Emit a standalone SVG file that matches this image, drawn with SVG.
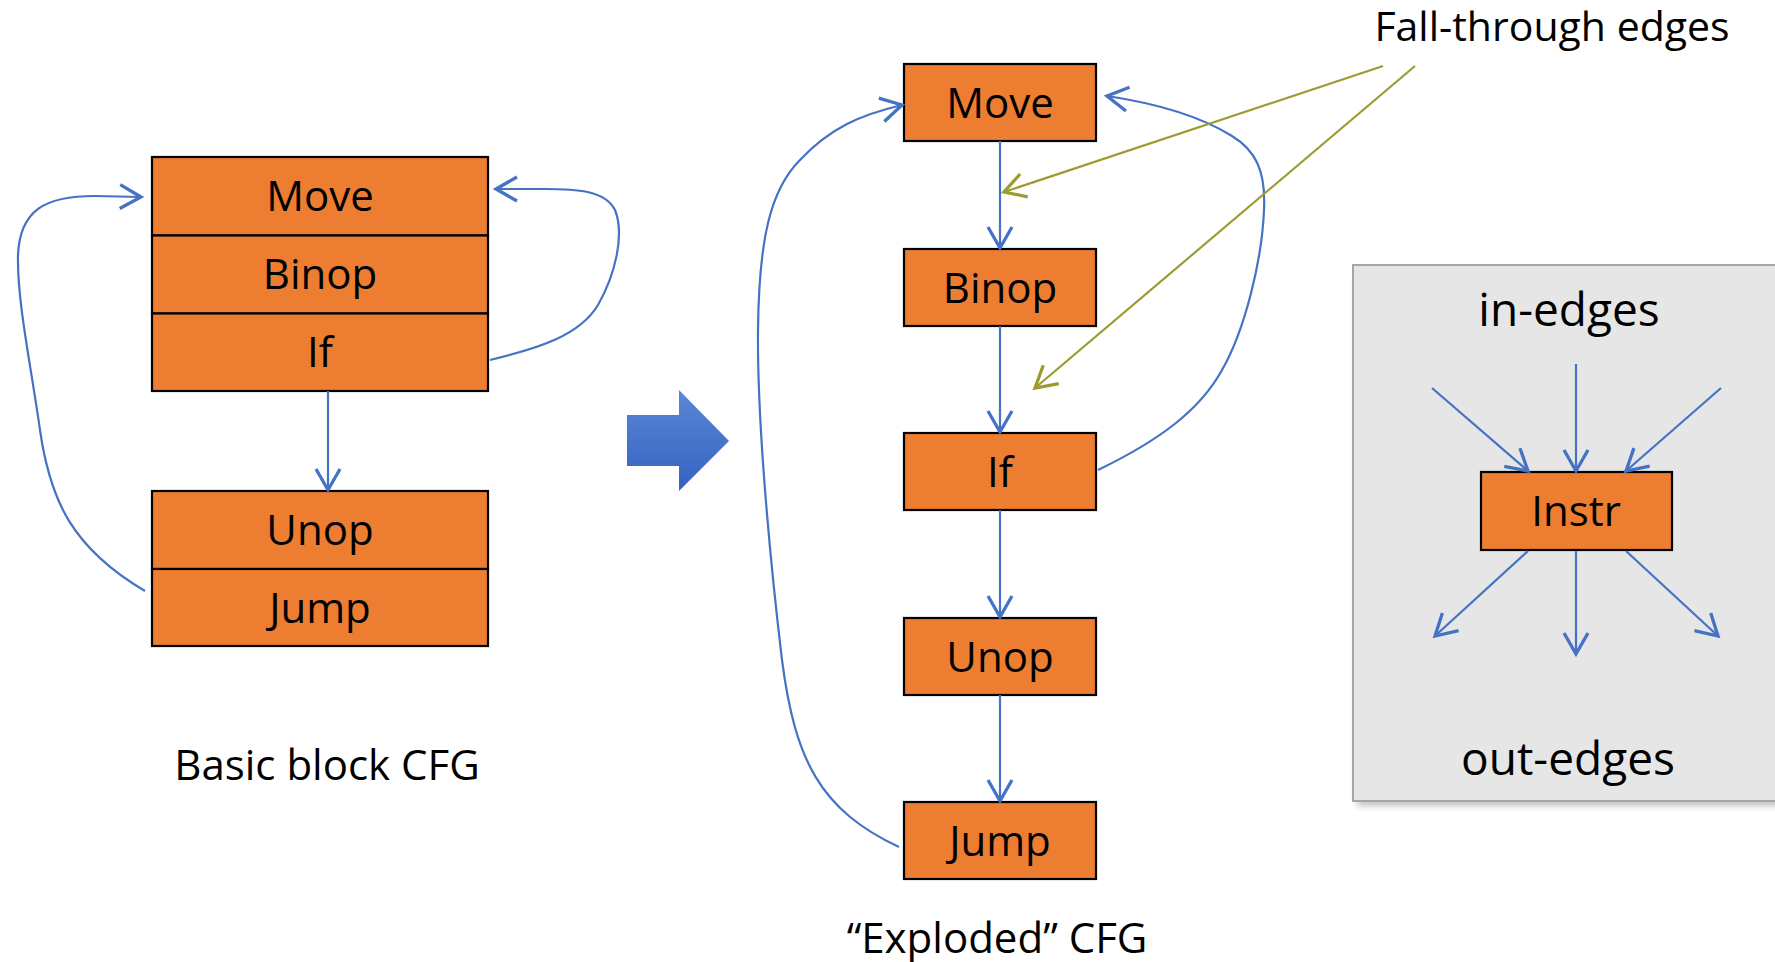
<svg xmlns="http://www.w3.org/2000/svg" width="1775" height="962" viewBox="0 0 1775 962">
  <style>
    .box { fill: #ed7d31; stroke: #000; stroke-width: 2.2; }
    .lbl { font-family: "Open Sans", "Noto Sans", sans-serif; font-size: 42px; fill: #000; text-anchor: middle; }
    .big { font-size: 46px; }
    .edge { fill: none; stroke: #4472c4; stroke-width: 2.2; }
    .fall { fill: none; stroke: #9b9b32; stroke-width: 2.2; }
  </style>
  <defs>
    <marker id="vb" markerUnits="userSpaceOnUse" markerWidth="30" markerHeight="30" viewBox="-16 -10 20 20" refX="0" refY="0" orient="auto">
      <path d="M-14,-8 L0,0 L-14,8" fill="none" stroke="#4472c4" stroke-width="2.2"/>
    </marker>
    <marker id="vg" markerUnits="userSpaceOnUse" markerWidth="30" markerHeight="30" viewBox="-16 -10 20 20" refX="0" refY="0" orient="auto">
      <path d="M-14,-8 L0,0 L-14,8" fill="none" stroke="#9b9b32" stroke-width="2.2"/>
    </marker>
    <linearGradient id="bigArrow" x1="0" y1="0" x2="0" y2="1">
      <stop offset="0" stop-color="#5b87d6"/>
      <stop offset="1" stop-color="#3462c0"/>
    </linearGradient>
    <filter id="shadow" x="-10%" y="-10%" width="120%" height="120%">
      <feGaussianBlur stdDeviation="3"/>
    </filter>
  </defs>

  <rect width="1775" height="962" fill="#fff"/>

  <!-- legend panel -->
  <g id="legend-panel">
    <rect x="1357" y="270" width="440" height="536" fill="#9a9a9a" opacity="0.6" filter="url(#shadow)"/>
    <rect x="1353" y="265" width="440" height="536" fill="#e6e6e6" stroke="#a6a6a6" stroke-width="2"/>
    <text class="lbl big" x="1569" y="326">in-edges</text>
    <text class="lbl big" x="1568" y="775">out-edges</text>
  </g>

  <!-- basic block CFG -->
  <g id="block-1">
    <rect class="box" x="152" y="157" width="336" height="78.5"/>
    <rect class="box" x="152" y="235.5" width="336" height="78"/>
    <rect class="box" x="152" y="313.5" width="336" height="77.5"/>
    <text class="lbl" x="320" y="211">Move</text>
    <text class="lbl" x="320" y="289">Binop</text>
    <text class="lbl" x="320" y="367">If</text>
  </g>
  <g id="block-2">
    <rect class="box" x="152" y="491" width="336" height="78"/>
    <rect class="box" x="152" y="569" width="336" height="77"/>
    <text class="lbl" x="320" y="545">Unop</text>
    <text class="lbl" x="320" y="623">Jump</text>
  </g>
  <text id="caption-basic" class="lbl" x="327" y="780">Basic block CFG</text>

  <!-- transformation arrow -->
  <path id="big-arrow" d="M627,415 L679,415 L679,390 L729,441 L679,491 L679,466 L627,466 Z" fill="url(#bigArrow)"/>

  <!-- exploded CFG -->
  <g id="n-move">
    <rect class="box" x="904" y="64" width="192" height="77"/>
    <text class="lbl" x="1000" y="118">Move</text>
  </g>
  <g id="n-binop">
    <rect class="box" x="904" y="249" width="192" height="77"/>
    <text class="lbl" x="1000" y="303">Binop</text>
  </g>
  <g id="n-if">
    <rect class="box" x="904" y="433" width="192" height="77"/>
    <text class="lbl" x="1000" y="487">If</text>
  </g>
  <g id="n-unop">
    <rect class="box" x="904" y="618" width="192" height="77"/>
    <text class="lbl" x="1000" y="672">Unop</text>
  </g>
  <g id="n-jump">
    <rect class="box" x="904" y="802" width="192" height="77"/>
    <text class="lbl" x="1000" y="856">Jump</text>
  </g>
  <text id="caption-exploded" class="lbl" x="997" y="953">“Exploded” CFG</text>

  <!-- instruction legend node -->
  <g id="n-instr">
    <rect class="box" x="1481" y="472" width="191" height="78"/>
    <text class="lbl" x="1576" y="526">Instr</text>
  </g>

  <text id="fall-label" class="lbl" x="1552" y="41" style="font-size:41px">Fall-through edges</text>

  <g id="connectors">
    <!-- basic block CFG -->
    <path class="edge" d="M328,391 L328,490" marker-end="url(#vb)"/>
    <path class="edge" d="M145,591 C72,548 50,500 40,430 C30,360 17,300 18,255 C20,210 45,196 95,196 L141,197" marker-end="url(#vb)"/>
    <path class="edge" d="M490,360 C540,348 580,335 598,305 C615,275 625,235 615,210 C605,190 575,189 545,189 L496,189" marker-end="url(#vb)"/>

    <!-- exploded CFG -->
    <path class="edge" d="M1000,141 L1000,248" marker-end="url(#vb)"/>
    <path class="edge" d="M1000,326 L1000,432" marker-end="url(#vb)"/>
    <path class="edge" d="M1000,510 L1000,617" marker-end="url(#vb)"/>
    <path class="edge" d="M1000,695 L1000,801" marker-end="url(#vb)"/>
    <path class="edge" d="M899,847 C820,810 795,760 782,660 C770,560 757,420 758,330 C759,240 770,190 800,160 C830,128 860,115 902,105" marker-end="url(#vb)"/>
    <path class="edge" d="M1098,470 C1160,440 1200,410 1222,370 C1245,330 1262,260 1264,210 C1266,170 1255,150 1232,136 C1200,116 1160,104 1107,96" marker-end="url(#vb)"/>

    <!-- fall-through annotations -->
    <path class="fall" d="M1383,66 L1004,192" marker-end="url(#vg)"/>
    <path class="fall" d="M1415,66 L1035,388" marker-end="url(#vg)"/>

    <!-- in-edges -->
    <path class="edge" d="M1432,388 L1528,471" marker-end="url(#vb)"/>
    <path class="edge" d="M1576,364 L1576,471" marker-end="url(#vb)"/>
    <path class="edge" d="M1721,388 L1626,471" marker-end="url(#vb)"/>
    <!-- out-edges -->
    <path class="edge" d="M1528,551 L1435,636" marker-end="url(#vb)"/>
    <path class="edge" d="M1576,551 L1576,654" marker-end="url(#vb)"/>
    <path class="edge" d="M1626,551 L1718,636" marker-end="url(#vb)"/>
  </g>
</svg>
